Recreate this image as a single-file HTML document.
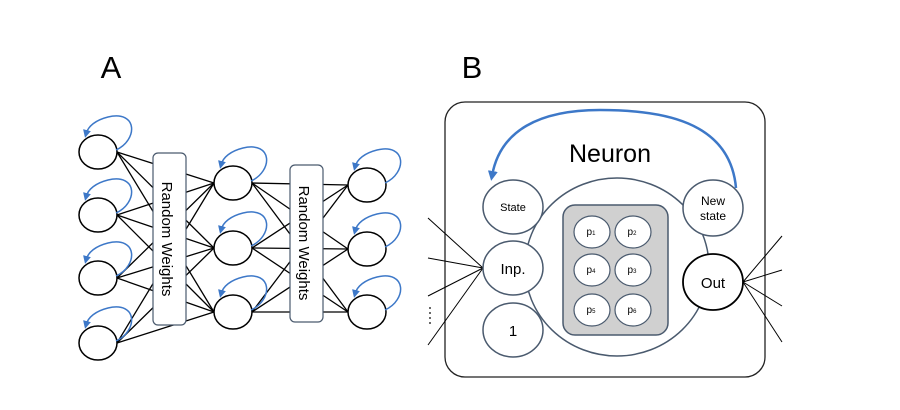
<!DOCTYPE html>
<html><head><meta charset="utf-8"><style>
html,body{margin:0;padding:0;background:#fff;}
svg{display:block;font-family:"Liberation Sans",Arial,sans-serif;}
</style></head><body>
<svg width="900" height="410" viewBox="0 0 900 410" xmlns="http://www.w3.org/2000/svg">
<defs>
<marker id="ah" markerWidth="8" markerHeight="8" refX="4" refY="4" orient="auto" markerUnits="userSpaceOnUse">
<path d="M0,0 L8,4 L0,8 z" fill="#3d78c8"/>
</marker>
<marker id="ah2" markerWidth="10" markerHeight="10" refX="5" refY="5" orient="auto" markerUnits="userSpaceOnUse">
<path d="M0,0 L10,5 L0,10 z" fill="#3d78c8"/>
</marker>
</defs>
<text x="111" y="78" font-size="31" text-anchor="middle">A</text>
<text x="472" y="78" font-size="31" text-anchor="middle">B</text>

<!-- Panel A connections -->
<g stroke="#000" stroke-width="1.3">
<line x1="117" y1="152" x2="214" y2="183"/><line x1="117" y1="152" x2="214" y2="248"/><line x1="117" y1="152" x2="214" y2="312"/>
<line x1="117" y1="215" x2="214" y2="183"/><line x1="117" y1="215" x2="214" y2="248"/><line x1="117" y1="215" x2="214" y2="312"/>
<line x1="117" y1="278" x2="214" y2="183"/><line x1="117" y1="278" x2="214" y2="248"/><line x1="117" y1="278" x2="214" y2="312"/>
<line x1="117" y1="343" x2="214" y2="183"/><line x1="117" y1="343" x2="214" y2="248"/><line x1="117" y1="343" x2="214" y2="312"/>
<line x1="252" y1="183" x2="348" y2="185"/><line x1="252" y1="183" x2="348" y2="249"/><line x1="252" y1="183" x2="348" y2="312"/>
<line x1="252" y1="248" x2="348" y2="185"/><line x1="252" y1="248" x2="348" y2="249"/><line x1="252" y1="248" x2="348" y2="312"/>
<line x1="252" y1="312" x2="348" y2="185"/><line x1="252" y1="312" x2="348" y2="249"/><line x1="252" y1="312" x2="348" y2="312"/>
</g>
<rect x="153" y="153" width="33" height="172" rx="5" fill="#fff" stroke="#4a5a6e" stroke-width="1.2"/>
<rect x="290" y="165" width="33" height="157" rx="5" fill="#fff" stroke="#4a5a6e" stroke-width="1.2"/>
<text transform="translate(162,239) rotate(90)" font-size="15" text-anchor="middle">Random Weights</text>
<text transform="translate(299,243) rotate(90)" font-size="15" text-anchor="middle">Random Weights</text>

<g fill="#fff" stroke="#000" stroke-width="1.5">
<ellipse cx="98" cy="152" rx="19" ry="17"/><ellipse cx="98" cy="215" rx="19" ry="17"/>
<ellipse cx="98" cy="278" rx="19" ry="17"/><ellipse cx="98" cy="343" rx="19" ry="17"/>
<ellipse cx="233" cy="183" rx="19" ry="17"/><ellipse cx="233" cy="248" rx="19" ry="17"/><ellipse cx="233" cy="312" rx="19" ry="17"/>
<ellipse cx="367" cy="185" rx="19" ry="17"/><ellipse cx="367" cy="249" rx="19" ry="17"/><ellipse cx="367" cy="312" rx="19" ry="17"/>
</g>
<g fill="none" stroke="#3d78c8" stroke-width="1.5" marker-end="url(#ah)">
<path d="M116,150 C138,140 138,110 108,117 C96,120 88,126 86,134"/>
<path d="M116,213 C138,203 138,173 108,180 C96,183 88,189 86,197"/>
<path d="M116,276 C138,266 138,236 108,243 C96,246 88,252 86,260"/>
<path d="M116,341 C138,331 138,301 108,308 C96,311 88,317 86,325"/>
<path d="M251,181 C273,171 273,141 243,148 C231,151 223,157 221,165"/>
<path d="M251,246 C273,236 273,206 243,213 C231,216 223,222 221,230"/>
<path d="M251,310 C273,300 273,270 243,277 C231,280 223,286 221,294"/>
<path d="M385,183 C407,173 407,143 377,150 C365,153 357,159 355,167"/>
<path d="M385,247 C407,237 407,207 377,214 C365,217 357,223 355,231"/>
<path d="M385,310 C407,300 407,270 377,277 C365,280 357,286 355,294"/>
</g>

<!-- Panel B -->
<rect x="445" y="102" width="320" height="275" rx="20" fill="#fff" stroke="#222" stroke-width="1.3"/>
<g stroke="#000" stroke-width="1">
<line x1="428" y1="218" x2="483" y2="268"/><line x1="428" y1="258" x2="483" y2="268"/>
<line x1="428" y1="296" x2="483" y2="268"/><line x1="428" y1="345" x2="483" y2="268"/>
<line x1="743" y1="282" x2="782" y2="236"/><line x1="743" y1="282" x2="782" y2="270"/>
<line x1="743" y1="282" x2="782" y2="306"/><line x1="743" y1="282" x2="782" y2="342"/>
</g>
<g fill="#000"><circle cx="430" cy="308" r="0.9"/><circle cx="430" cy="313" r="0.9"/><circle cx="430" cy="318" r="0.9"/><circle cx="430" cy="323" r="0.9"/></g>
<ellipse cx="617" cy="267" rx="92" ry="89" fill="#fff" stroke="#4a5a6e" stroke-width="1.5"/>
<text x="610" y="162" font-size="25" text-anchor="middle">Neuron</text>
<path d="M736,188 C730,120 660,110 600,110 C540,110 500,130 492,176" fill="none" stroke="#3d78c8" stroke-width="2.5" marker-end="url(#ah2)"/>
<g fill="#fff" stroke="#4a5a6e" stroke-width="1.5">
<ellipse cx="513" cy="207" rx="30" ry="27"/>
<ellipse cx="513" cy="268" rx="30" ry="27"/>
<ellipse cx="513" cy="330" rx="30" ry="27"/>
<ellipse cx="713" cy="208" rx="30" ry="28"/>
</g>
<ellipse cx="713" cy="282" rx="30" ry="28" fill="#fff" stroke="#000" stroke-width="1.8"/>
<rect x="563" y="205" width="105" height="130" rx="12" fill="#d0d0d0" stroke="#4a5a6e" stroke-width="1.5"/>
<g fill="#fff" stroke="#4a5a6e" stroke-width="1.2">
<ellipse cx="592" cy="232" rx="18" ry="16"/><ellipse cx="633" cy="232" rx="18" ry="16"/>
<ellipse cx="592" cy="270" rx="18" ry="16"/><ellipse cx="633" cy="270" rx="18" ry="16"/>
<ellipse cx="592" cy="310" rx="18" ry="16"/><ellipse cx="633" cy="310" rx="18" ry="16"/>
</g>
<g font-size="11" text-anchor="middle">
<text x="513" y="211">State</text>
<text x="513" y="274" font-size="15">Inp.</text>
<text x="513" y="336" font-size="15">1</text>
<text x="713" y="205" font-size="12">New</text>
<text x="713" y="220" font-size="12">state</text>
<text x="713" y="288" font-size="15">Out</text>
</g>
<g font-size="10" text-anchor="middle">
<text x="591" y="235">p<tspan font-size="6">1</tspan></text>
<text x="632" y="235">p<tspan font-size="6">2</tspan></text>
<text x="591" y="273">p<tspan font-size="6">4</tspan></text>
<text x="632" y="273">p<tspan font-size="6">3</tspan></text>
<text x="591" y="313">p<tspan font-size="6">5</tspan></text>
<text x="632" y="313">p<tspan font-size="6">6</tspan></text>
</g>
</svg>
</body></html>
